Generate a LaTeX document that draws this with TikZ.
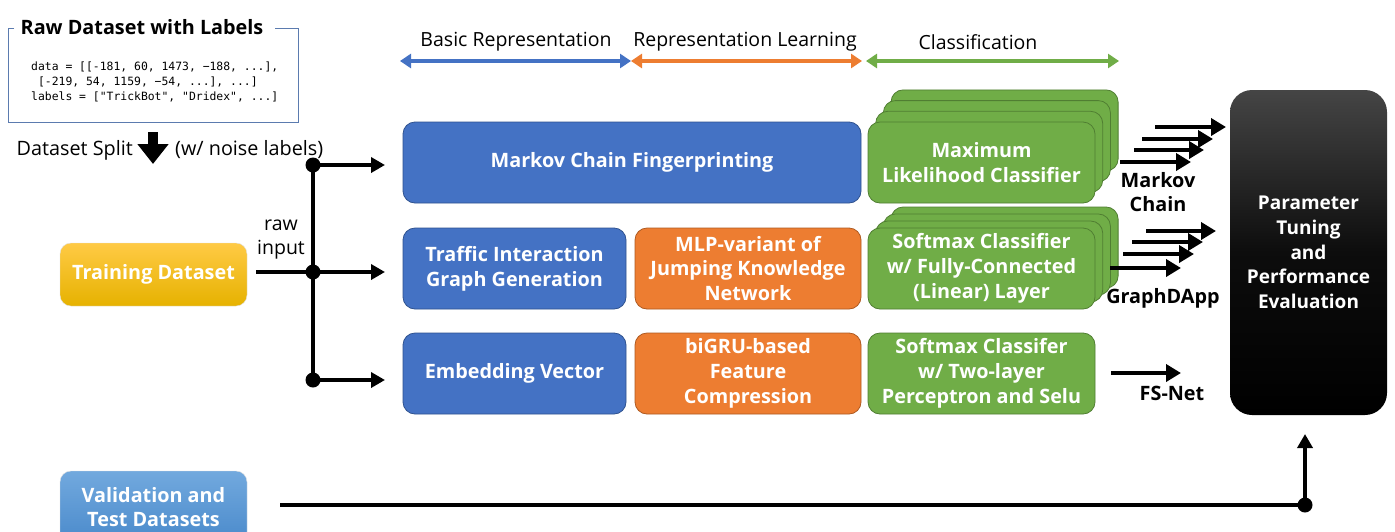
\documentclass[tikz,border=0pt]{standalone}
\usepackage{fontspec}
\setmainfont{Open Sans}
\setmonofont{DejaVu Sans Mono}
\usetikzlibrary{arrows.meta}
\definecolor{cBlue}{HTML}{4472C4}
\definecolor{cBlueD}{HTML}{2F528F}
\definecolor{cOrange}{HTML}{ED7D31}
\definecolor{cOrangeD}{HTML}{AE5A21}
\definecolor{cGreen}{HTML}{70AD47}
\definecolor{cGreenD}{HTML}{507E32}
\definecolor{cFrame}{HTML}{5B7BAF}
\definecolor{trTop}{HTML}{FFCA45}
\definecolor{trMid}{HTML}{FFC600}
\definecolor{trBot}{HTML}{E6B200}
\definecolor{vaTop}{HTML}{72A9DE}
\definecolor{vaBot}{HTML}{4A8ACB}
\definecolor{evTop}{HTML}{454545}
\begin{document}
\begin{tikzpicture}[x=1pt,y=-1pt,
  boxtext/.style={text=white, font=\bfseries\fontsize{19.8}{24.8}\selectfont, align=center, inner sep=0pt},
  procbox/.style={boxtext, rounded corners=12pt, line width=0.8pt, minimum height=81pt},
  bluebox/.style={procbox, fill=cBlue, draw=cBlueD},
  orangebox/.style={procbox, fill=cOrange, draw=cOrangeD, minimum width=226pt},
  greenbox/.style={procbox, fill=cGreen, draw=cGreenD, minimum width=227pt},
  wire/.style={line width=4.5pt, black},
  warrow/.style={wire, -{Triangle[length=14pt,width=15pt]}},
  outarrow/.style={line width=4.5pt, -{Triangle[length=15pt,width=17pt]}},
  dot/.style={circle, fill=black, inner sep=0pt, minimum size=15pt},
  head/.style={font=\fontsize{19.5}{23}\selectfont, inner sep=0pt},
  hdarrow/.style={line width=4pt, {Triangle[length=11pt,width=14pt]}-{Triangle[length=11pt,width=14pt]}},
  blabel/.style={font=\bfseries\fontsize{19.8}{24.5}\selectfont, align=center, inner sep=0pt},
]
\clip (0,0) rectangle (1395,531);
\fill[white] (0,0) rectangle (1395,531);

% raw dataset box
\draw[cFrame, line width=1pt] (14,28) -- (8,28) -- (8,122) -- (298,122) -- (298,28) -- (275,28);
\node[font=\bfseries\fontsize{19.8}{23}\selectfont, inner sep=0pt] (rawtitle) at (142,27) {Raw Dataset with Labels};
\node[font=\ttfamily\fontsize{11.4}{15}\selectfont, align=left, inner sep=0pt, anchor=west] (rawcode) at (31,82)
  {data = [[-181, 60, 1473, −188, ...],\\\ [-219, 54, 1159, −54, ...], ...]\\labels = ["TrickBot", "Dridex", ...]};

% dataset split
\node[font=\fontsize{19.8}{23}\selectfont, inner sep=0pt, anchor=east] (split) at (133,150) {Dataset Split};
\node[font=\fontsize{19.8}{23}\selectfont, inner sep=0pt, anchor=west] (noise) at (175,150) {(w/ noise labels)};
\draw[line width=10pt, -{Triangle[length=20pt,width=30pt]}] (153,132) -- (153,164);

% datasets
\node[boxtext, rounded corners=11pt, minimum width=187pt, minimum height=63pt, draw=black!12, top color=trTop, middle color=trMid, bottom color=trBot] (train) at (153.5,274.5) {Training Dataset};
\node[boxtext, rounded corners=11pt, minimum width=187pt, minimum height=72pt, draw=black!12, top color=vaTop, bottom color=vaBot] (valid) at (153.5,507) {Validation and\\Test Datasets};

% header arrows
\coordinate (h0) at (400,61); \coordinate (h1) at (631,61); \coordinate (h2) at (862,61); \coordinate (h3) at (866,61); \coordinate (h4) at (1119,61);
\draw[hdarrow, cBlue] (h0) -- (h1);
\draw[hdarrow, cOrange] (h1) -- (h2);
\draw[hdarrow, cGreen] (h3) -- (h4);
\node[head] (hb) at (516,42) {Basic Representation};
\node[head] (hr) at (745,42) {Representation Learning};
\node[head] (hc) at (978,42) {Classification};

% blue
\node[bluebox, minimum width=458pt] (mcf) at (632,162.5) {Markov Chain Fingerprinting};
\node[bluebox, minimum width=223pt] (tig) at (514.5,268.5) {Traffic Interaction\\Graph Generation};
\node[bluebox, minimum width=223pt] (emb) at (514.5,373.5) {Embedding Vector};
% orange
\node[orangebox] (mlp) at (748,268.5) {MLP-variant of\\Jumping Knowledge\\Network};
\node[orangebox] (gru) at (748,373.5) {biGRU-based\\Feature\\Compression};
% green stacks
\foreach \k in {3,2,1} {
  \node[greenbox] (mlc\k) at (981.5+7.7*\k,162.5-10.7*\k) {};
  \node[greenbox] (sfc\k) at (981.5+7.7*\k,268.5-7*\k) {};
}
\node[greenbox] (mlc) at (981.5,162.5) {Maximum\\Likelihood Classifier};
\node[greenbox] (sfc) at (981.5,268.5) {Softmax Classifier\\w/ Fully-Connected\\(Linear) Layer};
\node[greenbox] (tlp) at (981.5,373.5) {Softmax Classifer\\w/ Two-layer\\Perceptron and Selu};

% evaluation
\node[boxtext, rounded corners=22pt, minimum width=157pt, minimum height=325pt, top color=evTop, bottom color=black, middle color=black!95, font=\bfseries\fontsize{19}{24.7}\selectfont] (eval) at (1308.5,252.5) {Parameter\\Tuning\\and\\Performance\\Evaluation};

% left wiring
\coordinate (jt) at (313,165); \coordinate (jm) at (313,272); \coordinate (jb) at (313,380);
\coordinate (at) at (385,165); \coordinate (am) at (385,272); \coordinate (ab) at (385,380);
\draw[wire] (jt) -- (jb);
\draw[wire] (train.east) ++(9,-2.5) coordinate (ts) -- (jm);
\draw[warrow] (jt) -- (at);
\draw[warrow] (jm) -- (am);
\draw[warrow] (jb) -- (ab);
\node[dot] (dt) at (jt) {}; \node[dot] (dm) at (jm) {}; \node[dot] (db) at (jb) {};
\node[font=\fontsize{19.5}{24}\selectfont, align=center, inner sep=0pt] (raw) at (281,240) {raw\\input};

% output arrows: markov
\foreach \i/\xa/\xb/\yy in {1/1155/1226/127, 2/1142/1213/139, 3/1134/1204/150, 4/1120/1191/162} {
  \coordinate (ms\i) at (\xa,\yy); \coordinate (me\i) at (\xb,\yy);
  \draw[outarrow] (ms\i) -- (me\i);
}
\node[blabel] (lmc) at (1158,192) {Markov\\Chain};
\foreach \i/\xa/\xb/\yy in {1/1146/1216/231, 2/1132/1203/242, 3/1123/1194/254, 4/1110/1181/268} {
  \coordinate (gs\i) at (\xa,\yy); \coordinate (ge\i) at (\xb,\yy);
  \draw[outarrow] (gs\i) -- (ge\i);
}
\node[blabel] (lgd) at (1163,298) {GraphDApp};
\coordinate (fs) at (1111,373); \coordinate (fe) at (1181,373);
\draw[outarrow] (fs) -- (fe);
\node[blabel] (lfs) at (1172,393) {FS-Net};

% bottom line
\coordinate (vs) at (280,505); \coordinate (vj) at (1305,505); \coordinate (ve) at (1305,434);
\draw[wire] (vs) -- (vj);
\draw[warrow] (vj) -- (ve);
\node[dot] (dv) at (vj) {};
\end{tikzpicture}
\end{document}
